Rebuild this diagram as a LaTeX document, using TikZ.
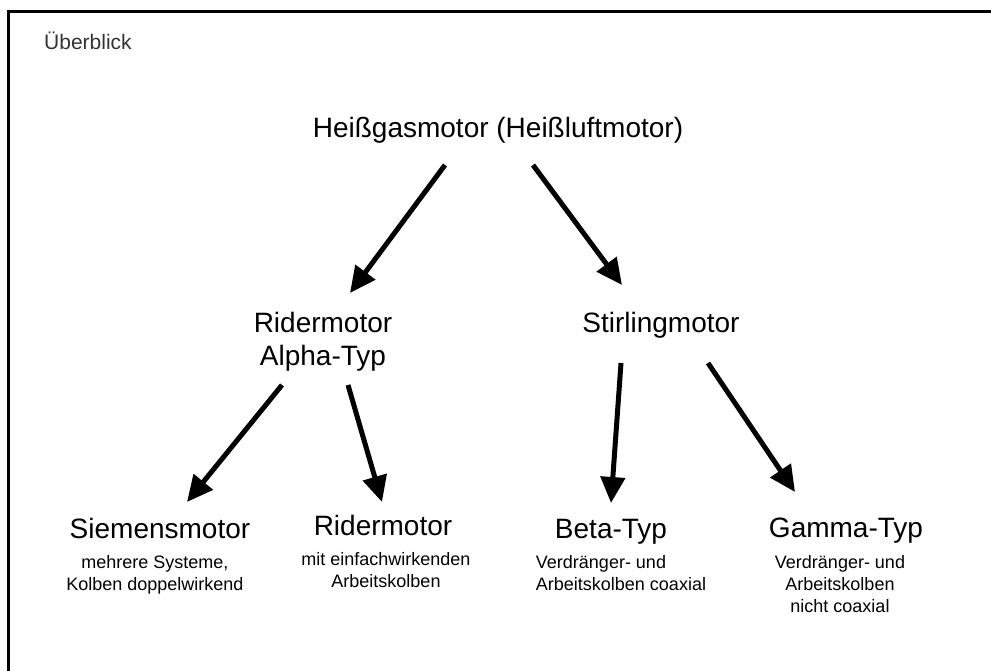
\documentclass[tikz,border=0pt]{standalone}
\usepackage{fontspec}
\setmainfont{Liberation Sans}
\usetikzlibrary{arrows.meta}
\begin{document}
\begin{tikzpicture}[x=1pt,y=-1pt,
  big/.style={inner sep=0pt,anchor=base,font=\fontsize{28}{28}\selectfont},
  small/.style={inner sep=0pt,anchor=north,font=\fontsize{18}{22}\selectfont,align=center},
  arr/.style={line width=5pt,-{Triangle[length=26pt,width=24pt]}}]
\useasboundingbox (0,0) rectangle (991,670);
\begin{scope}
\clip (0,0) rectangle (991,670);
\draw[line width=3pt] (8,11) rectangle (1010,700);
\end{scope}
\node[inner sep=0pt,anchor=base west,font=\fontsize{21}{21}\selectfont,text=black!80] (ueb) at (44,49) {Überblick};
\node[big] (top) at (498,137) {Heißgasmotor (Heißluftmotor)};
\node[big] (rid) at (323,332) {Ridermotor};
\node[big] (alp) at (323,365) {Alpha-Typ};
\node[big] (sti) at (661,332) {Stirlingmotor};
\node[big] (sie) at (160,538) {Siemensmotor};
\node[small] (sies) at (155,555) {mehrere Systeme,\\Kolben doppelwirkend};
\node[big] (rid2) at (383,535) {Ridermotor};
\node[small] (rids) at (386,552) {mit einfachwirkenden\\Arbeitskolben};
\node[big] (bet) at (611,538) {Beta-Typ};
\node[small,align=left] (bets) at (621,555) {Verdränger- und\\Arbeitskolben coaxial};
\node[big] (gam) at (846,537) {Gamma-Typ};
\node[small] (gams) at (840,555) {Verdränger- und\\Arbeitskolben\\nicht coaxial};
\coordinate (a1s) at (445,165); \coordinate (a1e) at (350,293);
\coordinate (a2s) at (533,165); \coordinate (a2e) at (622,285);
\coordinate (a3s) at (282,385); \coordinate (a3e) at (187,502);
\coordinate (a4s) at (348,385); \coordinate (a4e) at (382,502);
\coordinate (a5s) at (621,363); \coordinate (a5e) at (611,503);
\coordinate (a6s) at (708,363); \coordinate (a6e) at (795,492);
\draw[arr] (a1s) -- (a1e);
\draw[arr] (a2s) -- (a2e);
\draw[arr] (a3s) -- (a3e);
\draw[arr] (a4s) -- (a4e);
\draw[arr] (a5s) -- (a5e);
\draw[arr] (a6s) -- (a6e);
\end{tikzpicture}
\end{document}
